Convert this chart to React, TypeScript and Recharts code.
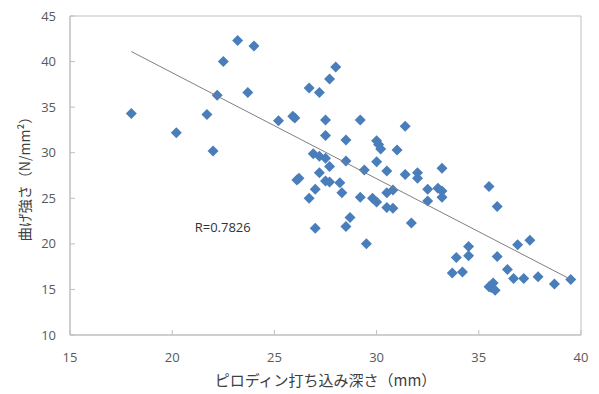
import { ScatterChart, Scatter, XAxis, YAxis, ReferenceArea, ReferenceDot } from 'recharts';

// Pilodyn penetration depth (mm) vs bending strength (N/mm2)
const depthValues = [
  18.0, 20.2, 21.7, 22.0, 22.2, 22.5, 23.2, 24.0, 23.7, 25.2,
  25.9, 26.0, 26.1, 26.2, 28.0, 27.7, 26.7, 27.2, 27.5, 29.2,
  31.4, 27.5, 28.5, 30.0, 30.1, 30.2, 31.0, 26.9, 27.2, 27.5,
  27.7, 28.5, 29.4, 30.0, 30.5, 27.2, 27.5, 27.7, 28.2, 27.0,
  28.3, 26.7, 29.2, 29.8, 30.0, 30.5, 30.8, 30.5, 30.8, 31.4,
  32.0, 32.0, 33.2, 32.5, 33.0, 33.2, 32.5, 33.2, 31.7, 28.7,
  28.5, 27.0, 29.5, 35.5, 35.9, 34.5, 33.9, 34.5, 33.7, 34.2,
  35.9, 36.4, 36.9, 37.5, 36.7, 37.2, 37.9, 38.7, 39.5, 35.7,
  35.5, 35.8, 35.6,
];
const strengthValues = [
  34.3, 32.2, 34.2, 30.2, 36.3, 40.0, 42.3, 41.7, 36.6, 33.5,
  34.0, 33.8, 27.0, 27.2, 39.4, 38.1, 37.1, 36.6, 33.6, 33.6,
  32.9, 31.9, 31.4, 31.3, 30.9, 30.4, 30.3, 29.9, 29.6, 29.4,
  28.5, 29.1, 28.1, 29.0, 28.0, 27.8, 26.9, 26.8, 26.7, 26.0,
  25.6, 25.0, 25.1, 25.0, 24.6, 25.6, 25.9, 24.0, 23.9, 27.6,
  27.8, 27.2, 28.3, 26.0, 26.1, 25.8, 24.7, 25.1, 22.3, 22.9,
  21.9, 21.7, 20.0, 26.3, 24.1, 19.7, 18.5, 18.7, 16.8, 16.9,
  18.6, 17.2, 19.9, 20.4, 16.2, 16.2, 16.4, 15.6, 16.1, 15.7,
  15.3, 14.9, 15.2,
];

// regression line end points
const trendX = [18.0, 39.5];
const trendY = [41.1, 16.1];

const xTicks = [15, 20, 25, 30, 35, 40];
const yTicks = [10, 15, 20, 25, 30, 35, 40, 45];

const rText = 'R=0.7826';
const rPos = { x: 21.1, y: 21.85 };

const xLabel = 'ピロディン打ち込み深さ（mm）';
const yLabel = '曲げ強さ（N/mm²）';

const points = depthValues.map((x, i) => ({ x, y: strengthValues[i] }));
const trend = trendX.map((x, i) => ({ x, y: trendY[i] }));

const FONT = '"Open Sans", "Noto Sans CJK JP", sans-serif';
const JP_FONT = '"Noto Sans CJK JP", sans-serif';

const Diamond = (props: any) => {
  const { cx, cy } = props;
  const r = 5.5;
  return (
    <polygon
      points={`${cx},${cy - r} ${cx + r},${cy} ${cx},${cy + r} ${cx - r},${cy}`}
      fill="#4A7EBB"
    />
  );
};

const YTitle = ({ viewBox }: any) => {
  const x = viewBox.x + 24;
  const y = viewBox.y + viewBox.height / 2;
  return (
    <text
      x={x}
      y={y}
      transform={`rotate(-90 ${x} ${y})`}
      textAnchor="middle"
      dominantBaseline="central"
      fontFamily={JP_FONT}
      fontSize={14}
      fill="#404040"
    >
      {yLabel}
    </text>
  );
};

const XTitle = ({ viewBox }: any) => (
  <text
    x={viewBox.x + viewBox.width / 2}
    y={viewBox.y + 51}
    textAnchor="middle"
    fontFamily={JP_FONT}
    fontSize={15}
    fill="#404040"
  >
    {xLabel}
  </text>
);

const RLabel = ({ viewBox }: any) => (
  <text
    x={viewBox.x}
    y={viewBox.y}
    dominantBaseline="central"
    fontFamily={FONT}
    fontSize={13}
    fill="#333333"
  >
    {rText}
  </text>
);

export default function App() {
  return (
    <div style={{ position: 'absolute', left: 0, top: 0, background: '#fff' }}>
      <ScatterChart width={599} height={394} margin={{ top: 16, right: 18, bottom: 0, left: 0 }}>
        <XAxis
          type="number"
          dataKey="x"
          domain={[15, 40]}
          ticks={xTicks}
          height={59}
          stroke="#bfbfbf"
          tickSize={-5}
          tickMargin={23}
          tick={{ fill: '#595959', fontSize: 13, fontFamily: FONT }}
          label={{ content: XTitle }}
        />
        <YAxis
          type="number"
          dataKey="y"
          domain={[10, 45]}
          ticks={yTicks}
          width={70}
          stroke="#bfbfbf"
          tickSize={-5}
          tickMargin={19}
          tick={{ fill: '#595959', fontSize: 13, fontFamily: FONT }}
          label={{ content: YTitle }}
        />
        <ReferenceArea x1={15} x2={40} y1={10} y2={45} fill="none" stroke="#bfbfbf" ifOverflow="visible" />
        <Scatter data={points} shape={Diamond} isAnimationActive={false} />
        <Scatter
          data={trend}
          line={{ stroke: '#7f7f7f', strokeWidth: 1 }}
          shape={() => null}
          isAnimationActive={false}
        />
        <ReferenceDot x={rPos.x} y={rPos.y} r={0} fill="none" stroke="none" label={{ content: RLabel }} />
      </ScatterChart>
    </div>
  );
}
